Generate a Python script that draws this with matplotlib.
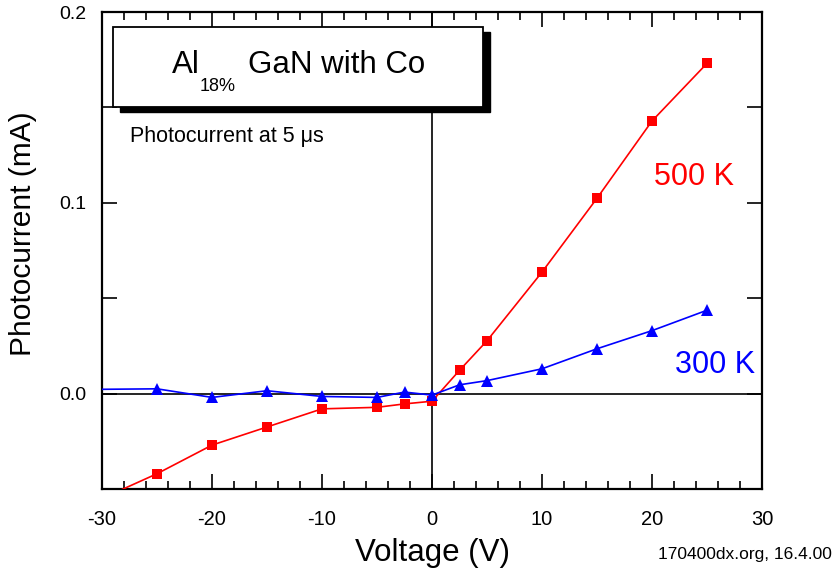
import matplotlib
matplotlib.use("Agg")
import matplotlib.pyplot as plt
from matplotlib.patches import Rectangle
from matplotlib.ticker import MultipleLocator, FixedLocator

plt.rcParams['font.family'] = ['Liberation Sans', 'DejaVu Sans']

# data
v_500 = [-30, -25, -20, -15, -10, -5, -2.5, 0, 2.5, 5, 10, 15, 20, 25]
i_500 = [-0.055, -0.042, -0.027, -0.0175, -0.008, -0.0072, -0.0054, -0.004,
         0.0122, 0.0277, 0.0637, 0.1024, 0.1429, 0.1731]
v_300 = [-35, -25, -20, -15, -10, -5, -2.5, 0, 2.5, 5, 10, 15, 20, 25]
i_300 = [0.002, 0.0025, -0.002, 0.0015, -0.0015, -0.002, 0.0008, -0.0008,
         0.0046, 0.0068, 0.013, 0.0235, 0.033, 0.0437]

fig = plt.figure(figsize=(8.34, 5.78), dpi=100)
ax = fig.add_axes([0.1223, 0.154, 0.7914, 0.8252])

ax.axhline(0, color='black', lw=1.2, zorder=1)
ax.axvline(0, color='black', lw=1.2, zorder=1)

ax.plot(v_500, i_500, color='#ff0000', lw=1.2, marker='s', ms=7,
        markeredgewidth=0, zorder=3)
ax.plot(v_300, i_300, color='#0000ff', lw=1.2, marker='^', ms=9,
        markeredgewidth=0, zorder=3)

ax.set_xlim(-30, 30)
ax.set_ylim(-0.05, 0.2)
ax.xaxis.set_major_locator(MultipleLocator(10))
ax.xaxis.set_minor_locator(MultipleLocator(2))
ax.yaxis.set_major_locator(FixedLocator([0.0, 0.1, 0.2]))
ax.yaxis.set_minor_locator(FixedLocator([-0.05, 0.05, 0.15]))
ax.set_yticklabels(['0.0', '0.1', '0.2'])
ax.set_xticklabels([str(int(t)) for t in ax.get_xticks()])

ax.tick_params(which='both', direction='in', top=True, right=True, width=1.2)
ax.tick_params(axis='x', labelsize=14.5, pad=15)
ax.tick_params(axis='y', labelsize=14, pad=11)
ax.tick_params(which='major', length=11)
ax.tick_params(which='minor', length=6)
ax.tick_params(axis='y', which='minor', length=11)
for s in ax.spines.values():
    s.set_linewidth(1.6)

ax.set_xlabel('Voltage (V)', fontsize=22.5)
ax.set_ylabel('Photocurrent (mA)', fontsize=21.5)
ax.xaxis.set_label_coords(0.5, -0.103)
ax.yaxis.set_label_coords(-0.098, 0.535)

# title box with drop shadow
ax.add_patch(Rectangle((-28.36, 0.1476), 33.64, 0.0419, transform=ax.transData,
                       facecolor='black', edgecolor='black', zorder=4, clip_on=False))
ax.add_patch(Rectangle((-29.0, 0.1503), 33.64, 0.0419, transform=ax.transData,
                       facecolor='white', edgecolor='black', lw=1.3, zorder=5,
                       clip_on=False))
fig.text(0.2062, 0.8737, 'Al', fontsize=22.5, zorder=6, va='baseline')
fig.text(0.2398, 0.843, '18%', fontsize=13, zorder=6, va='baseline')
fig.text(0.2974, 0.8737, 'GaN with Co', fontsize=22.5, zorder=6, va='baseline')

fig.text(0.156, 0.7543, 'Photocurrent at 5 \u03bcs', fontsize=15.5, va='baseline')
ax.text(23.8, 0.1094, '500 K', fontsize=22, color='#ff0000', va='baseline', ha='center')
ax.text(25.7, 0.011, '300 K', fontsize=22, color='#0000ff', va='baseline', ha='center')

fig.text(0.998, 0.04, '170400dx.org, 16.4.00', fontsize=12.5, ha='right',
         va='center')

fig.savefig('out.png', dpi=100)
